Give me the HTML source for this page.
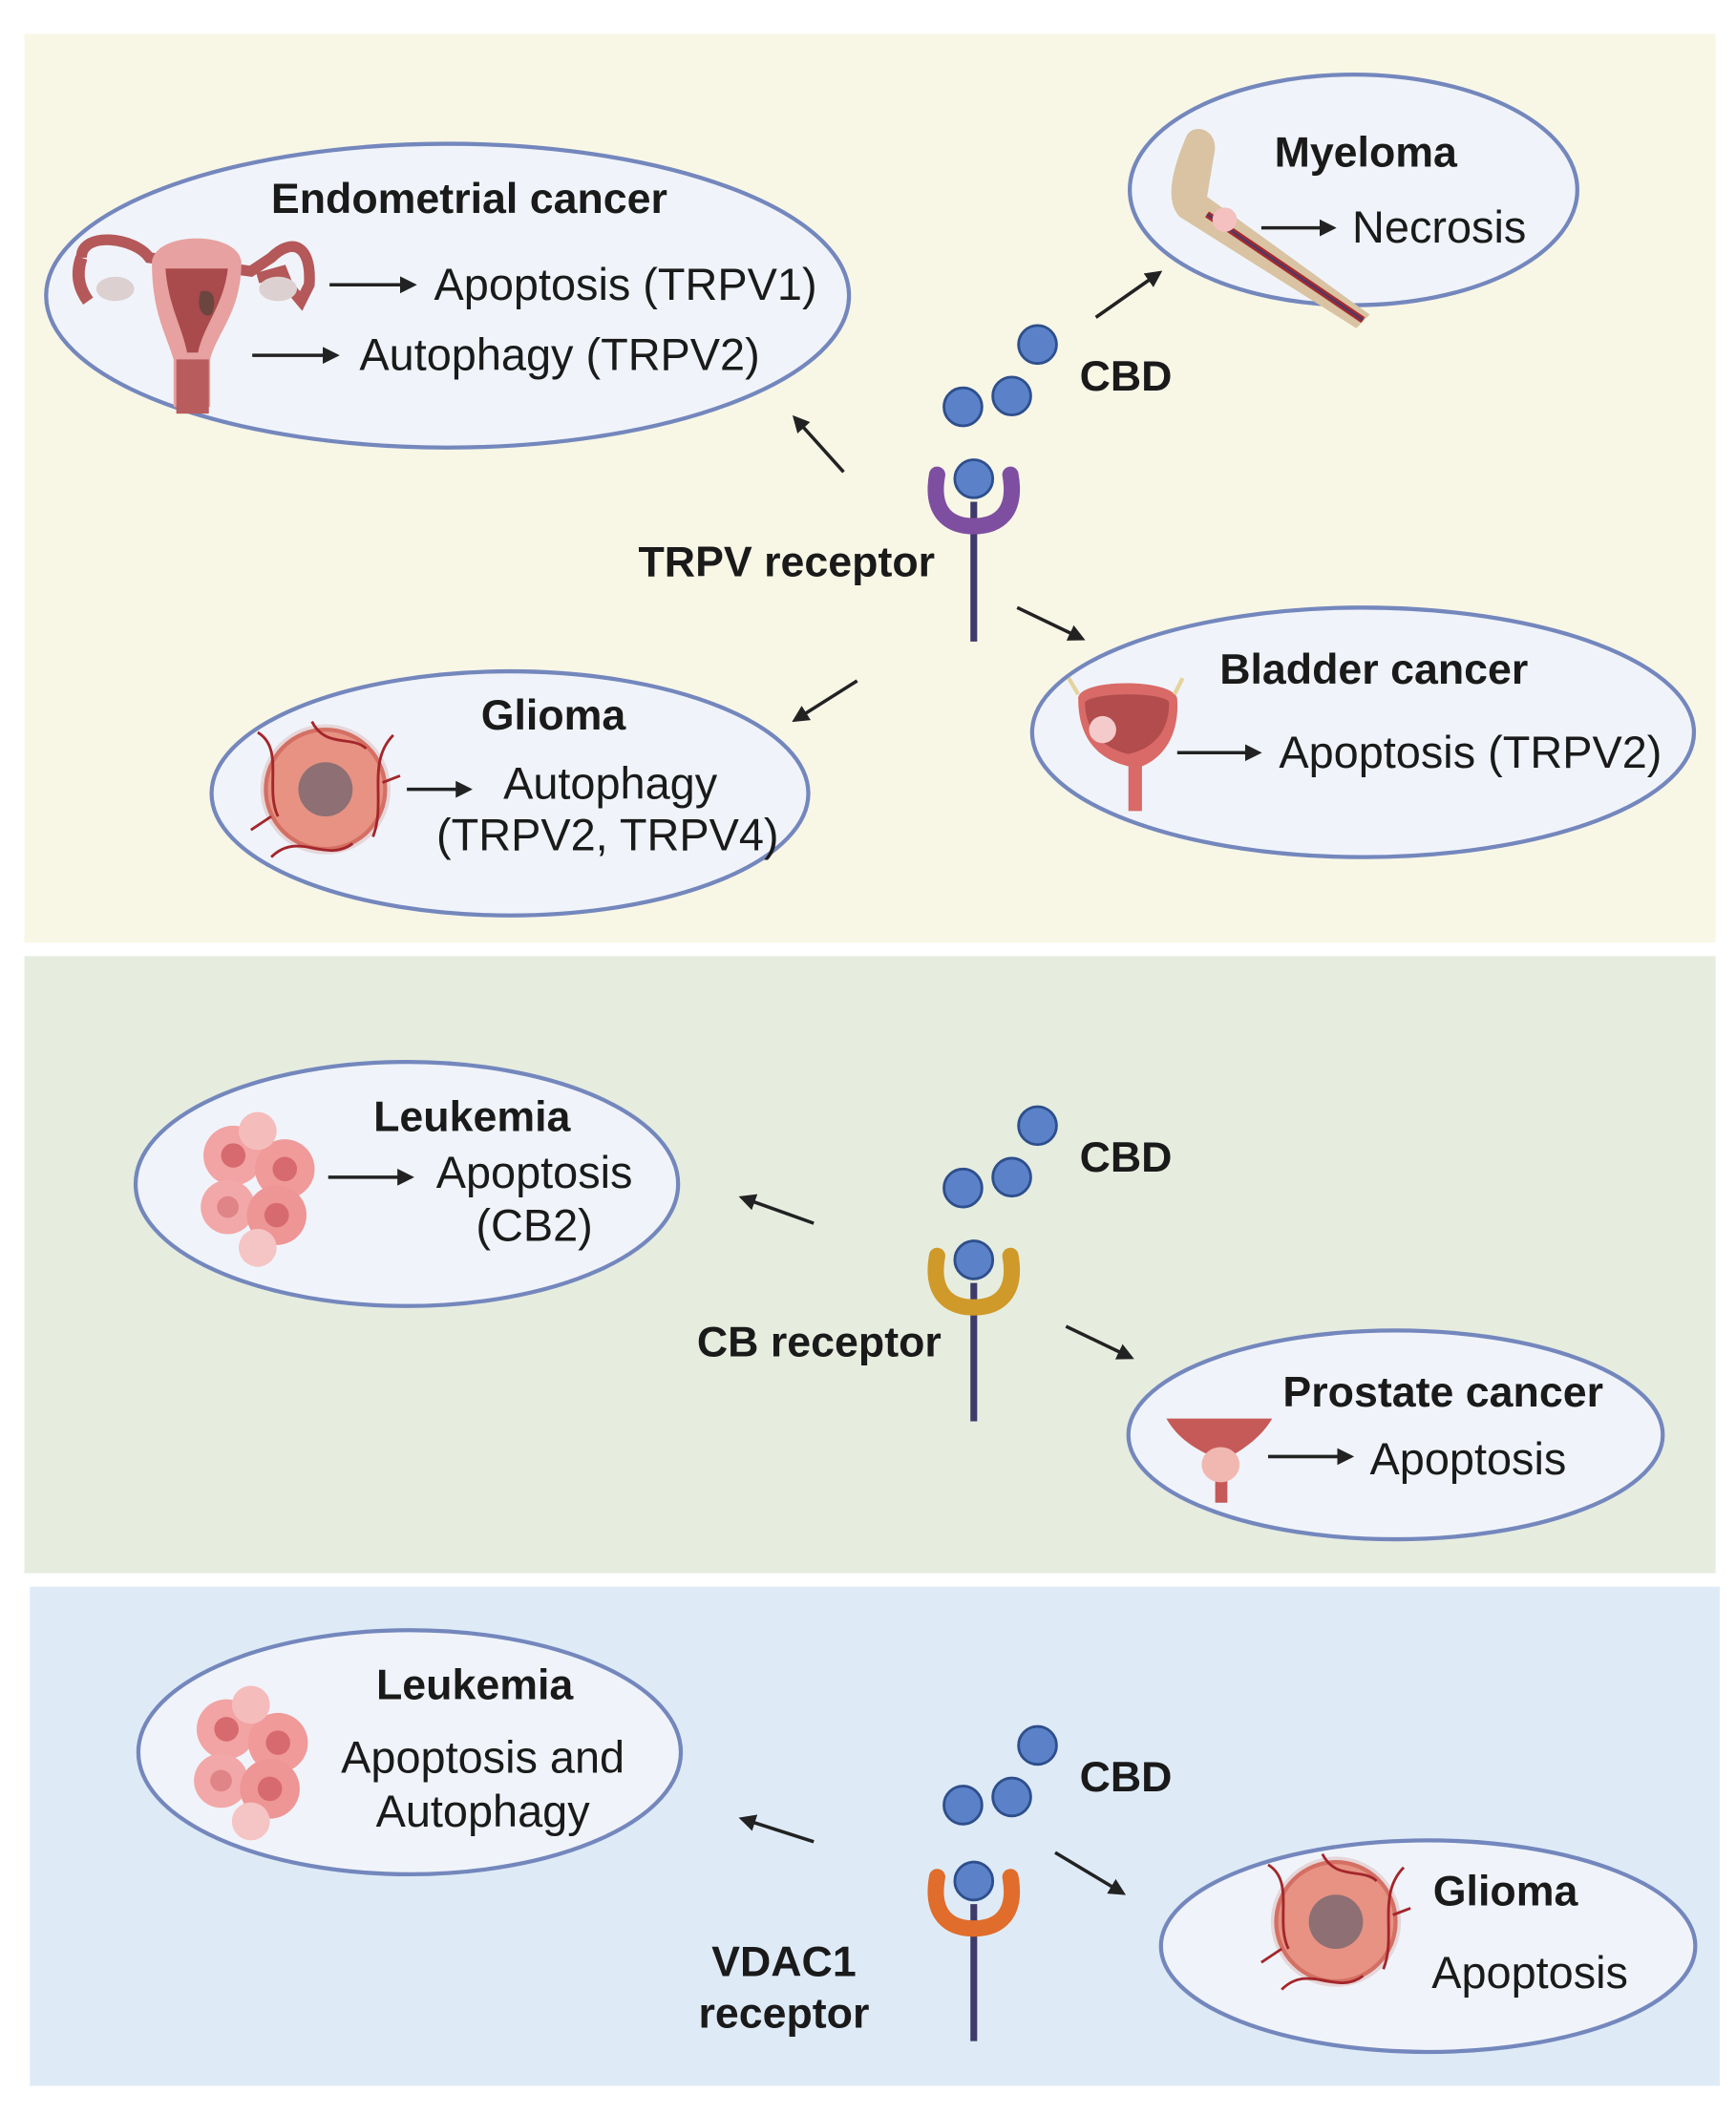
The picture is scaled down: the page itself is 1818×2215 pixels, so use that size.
<!DOCTYPE html>
<html><head><meta charset="utf-8"><style>
html,body{margin:0;padding:0;background:#fff}
svg{display:block}
text{font-family:"Liberation Sans",sans-serif;fill:#1a1a1a}
.b{font-weight:bold;font-size:31.5px}
.r{font-size:33px}
</style></head><body>
<svg width="1818" height="2215" viewBox="0 0 1280 1559.5" xmlns="http://www.w3.org/2000/svg">
<defs>
<marker id="ah" viewBox="0 0 10 10" refX="8" refY="5" markerWidth="5" markerHeight="5" orient="auto"><path d="M0,0 L10,5 L0,10 z" fill="#222"/></marker>
<g id="cell">
<circle r="48" fill="#d9b7b7" opacity="0.5"/>
<circle r="44" fill="#e79283" stroke="#d46f63" stroke-width="3"/>
<circle r="20" fill="#8d6f74"/>
<path d="M-50,-42 C-30,-30 -45,0 -35,20 M-40,50 C-20,30 0,55 20,40 M50,-40 C30,-20 45,10 35,35 M-10,-50 C0,-30 20,-40 30,-30 M-55,30 L-40,20 M55,-10 L42,-5" stroke="#a3262b" stroke-width="2" fill="none"/>
</g>
<g id="leuk">
<circle cx="-18" cy="-20" r="22" fill="#f2a3a3"/><circle cx="20" cy="-10" r="22" fill="#f09a9a"/>
<circle cx="-22" cy="18" r="20" fill="#f2a8a8"/><circle cx="14" cy="24" r="22" fill="#ee9595"/>
<circle cx="0" cy="-38" r="14" fill="#f5bcbc"/><circle cx="0" cy="48" r="14" fill="#f5c4c4"/>
<circle cx="-18" cy="-20" r="9" fill="#d76a6e"/><circle cx="20" cy="-10" r="9" fill="#d76a6e"/>
<circle cx="-22" cy="18" r="8" fill="#df8587"/><circle cx="14" cy="24" r="9" fill="#d76a6e"/>
</g>
</defs>
<rect x="18" y="25" width="1247" height="670" fill="#f8f7e6"/>
<rect x="18" y="705" width="1247" height="455" fill="#e6eddf"/>
<rect x="22" y="1170" width="1246" height="368" fill="#deebf7"/>
<g fill="#f0f4fa" stroke="#7487bd" stroke-width="3">
<ellipse cx="330" cy="218" rx="296" ry="112"/>
<ellipse cx="998" cy="140" rx="165" ry="85"/>
<ellipse cx="1005" cy="540" rx="244" ry="92"/>
<ellipse cx="376" cy="585" rx="220" ry="90"/>
<ellipse cx="300" cy="873" rx="200" ry="90"/>
<ellipse cx="1029" cy="1058" rx="197" ry="77"/>
<ellipse cx="302" cy="1292" rx="200" ry="90"/>
<ellipse cx="1053" cy="1435" rx="197" ry="78"/>
</g>
<g>
<path d="M60,190 C60,170 100,175 110,190 L185,200 L200,190 C215,175 230,180 228,210 L222,222 L212,210 L208,200 L190,205" fill="none" stroke="#b4585a" stroke-width="8"/>
<path d="M60,190 C55,205 60,215 65,222" fill="none" stroke="#b4585a" stroke-width="9"/>
<ellipse cx="85" cy="213" rx="14" ry="9" fill="#ddd0d0"/><ellipse cx="205" cy="213" rx="14" ry="9" fill="#ddd0d0"/>
<path d="M112,193 C115,170 175,170 178,193 C178,230 160,245 155,265 L155,300 L128,300 L128,265 C122,245 112,230 112,193 z" fill="#e7a1a0"/>
<path d="M122,198 L168,198 C165,225 150,240 146,260 L138,260 C134,240 124,225 122,198 z" fill="#a94a4c"/>
<path d="M148,215 C158,212 160,222 156,232 C150,235 144,228 148,215 z" fill="#6b463f"/>
<rect x="130" y="265" width="24" height="40" fill="#b85c5d"/>
</g>
<g>
<path d="M875,100 C880,90 900,95 895,115 L890,145 L1010,232 L1000,242 L870,160 C860,150 862,130 875,100 z" fill="#d9c3a2"/>
<line x1="890" y1="158" x2="1005" y2="236" stroke="#a32a2f" stroke-width="5"/>
<line x1="890" y1="158" x2="1005" y2="236" stroke="#4a3a6a" stroke-width="1.5"/>
<circle cx="903" cy="162" r="9" fill="#f5c0c0"/>
</g>
<g>
<path d="M795,515 C795,500 865,500 868,515 C870,545 855,560 842,565 L842,598 L832,598 L832,565 C810,560 795,545 795,515 z" fill="#d96a67"/>
<path d="M800,518 C805,510 860,510 862,518 C862,540 850,552 832,556 C815,552 800,540 800,518 z" fill="#b24c4d"/>
<circle cx="813" cy="538" r="10" fill="#f5caca"/>
<path d="M795,512 L788,500 M866,512 L872,500" stroke="#e4d39c" stroke-width="3"/>
</g>
<g>
<path d="M860,1046 L938,1046 C930,1060 915,1070 905,1075 L905,1108 L896,1108 L896,1075 C880,1068 868,1060 860,1046 z" fill="#c65a58"/>
<ellipse cx="900" cy="1080" rx="14" ry="13" fill="#f0b8b0"/>
</g>
<use href="#cell" x="240" y="582"/>
<use href="#cell" x="985" y="1417"/>
<use href="#leuk" x="190" y="872"/>
<use href="#leuk" x="185" y="1295"/>
<line x1="718" y1="370" x2="718" y2="473" stroke="#3e3a6b" stroke-width="5"/>
<path d="M691,350 C686,378 700,388 718,388 C736,388 750,378 745,350" fill="none" stroke="#7e4fa0" stroke-width="12" stroke-linecap="round"/>
<circle cx="718" cy="353" r="14" fill="#5b82c8" stroke="#2e4f8c" stroke-width="2"/>
<line x1="718" y1="946" x2="718" y2="1048" stroke="#3e3a6b" stroke-width="5"/>
<path d="M691,926 C686,954 700,964 718,964 C736,964 750,954 745,926" fill="none" stroke="#cf9a2a" stroke-width="12" stroke-linecap="round"/>
<circle cx="718" cy="929" r="14" fill="#5b82c8" stroke="#2e4f8c" stroke-width="2"/>
<line x1="718" y1="1404" x2="718" y2="1505" stroke="#3e3a6b" stroke-width="5"/>
<path d="M691,1384 C686,1412 700,1422 718,1422 C736,1422 750,1412 745,1384" fill="none" stroke="#e06d2b" stroke-width="12" stroke-linecap="round"/>
<circle cx="718" cy="1387" r="14" fill="#5b82c8" stroke="#2e4f8c" stroke-width="2"/>
<g fill="#5b82c8" stroke="#2e4f8c" stroke-width="2">
<circle cx="765" cy="254" r="14"/><circle cx="746" cy="292" r="14"/><circle cx="710" cy="300" r="14"/>
<circle cx="765" cy="830" r="14"/><circle cx="746" cy="868" r="14"/><circle cx="710" cy="876" r="14"/>
<circle cx="765" cy="1287" r="14"/><circle cx="746" cy="1325" r="14"/><circle cx="710" cy="1331" r="14"/>
</g>
<g stroke="#222" stroke-width="2.5" marker-end="url(#ah)">
<line x1="808" y1="234" x2="855" y2="201"/>
<line x1="622" y1="348" x2="586" y2="308"/>
<line x1="750" y1="448" x2="798" y2="471"/>
<line x1="632" y1="502" x2="586" y2="531"/>
<line x1="600" y1="902" x2="547" y2="883"/>
<line x1="786" y1="978" x2="834" y2="1001"/>
<line x1="600" y1="1358" x2="547" y2="1341"/>
<line x1="778" y1="1366" x2="828" y2="1396"/>
<line x1="243" y1="210" x2="305" y2="210"/>
<line x1="186" y1="262" x2="248" y2="262"/>
<line x1="930" y1="168" x2="983" y2="168"/>
<line x1="868" y1="555" x2="928" y2="555"/>
<line x1="300" y1="582" x2="346" y2="582"/>
<line x1="242" y1="868" x2="303" y2="868"/>
<line x1="935" y1="1074" x2="996" y2="1074"/>
</g>
<text class="b" x="346" y="157" text-anchor="middle">Endometrial cancer</text>
<text class="r" x="320" y="221">Apoptosis (TRPV1)</text>
<text class="r" x="265" y="273">Autophagy (TRPV2)</text>
<text class="b" x="1007" y="123" text-anchor="middle">Myeloma</text>
<text class="r" x="997" y="179">Necrosis</text>
<text class="b" x="796" y="288">CBD</text>
<text class="b" x="580" y="425" text-anchor="middle">TRPV receptor</text>
<text class="b" x="1013" y="504" text-anchor="middle">Bladder cancer</text>
<text class="r" x="943" y="566">Apoptosis (TRPV2)</text>
<text class="b" x="408" y="538" text-anchor="middle">Glioma</text>
<text class="r" x="450" y="589" text-anchor="middle">Autophagy</text>
<text class="r" x="448" y="627" text-anchor="middle">(TRPV2, TRPV4)</text>
<text class="b" x="348" y="834" text-anchor="middle">Leukemia</text>
<text class="r" x="394" y="876" text-anchor="middle">Apoptosis</text>
<text class="r" x="394" y="915" text-anchor="middle">(CB2)</text>
<text class="b" x="796" y="864">CBD</text>
<text class="b" x="604" y="1000" text-anchor="middle">CB receptor</text>
<text class="b" x="1064" y="1037" text-anchor="middle">Prostate cancer</text>
<text class="r" x="1010" y="1087">Apoptosis</text>
<text class="b" x="350" y="1253" text-anchor="middle">Leukemia</text>
<text class="r" x="356" y="1307" text-anchor="middle">Apoptosis and</text>
<text class="r" x="356" y="1347" text-anchor="middle">Autophagy</text>
<text class="b" x="796" y="1321">CBD</text>
<text class="b" x="578" y="1457" text-anchor="middle">VDAC1</text>
<text class="b" x="578" y="1495" text-anchor="middle">receptor</text>
<text class="b" x="1110" y="1405" text-anchor="middle">Glioma</text>
<text class="r" x="1128" y="1466" text-anchor="middle">Apoptosis</text>
</svg>
</body></html>
